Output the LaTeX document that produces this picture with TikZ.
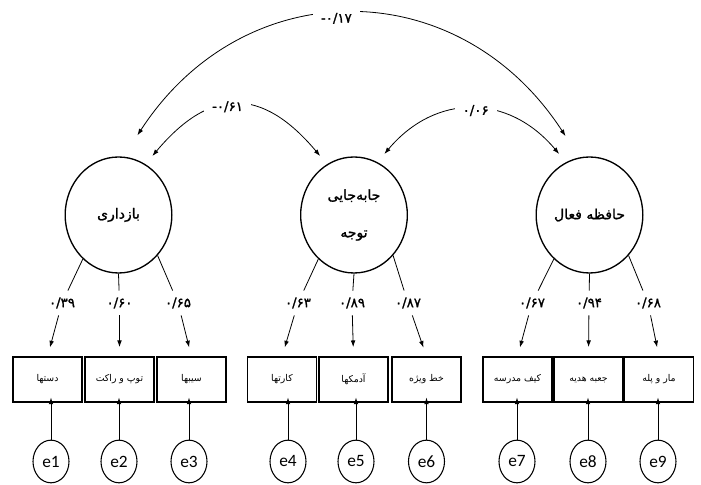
\documentclass[tikz,border=0pt]{standalone}
\usepackage{fontspec}
\setmainfont{Carlito}
\newfontfamily\farsi[Script=Arabic]{DejaVu Sans}
\newfontfamily\farsibold[Script=Arabic, FakeBold=1.2]{DejaVu Sans}
\TeXXeTstate=1
\usetikzlibrary{shapes,arrows.meta,positioning,calc}

\begin{document}
\begin{tikzpicture}[x=0.75pt, y=0.75pt,
    latent/.style={draw, ellipse, line width=1pt, minimum width=80pt, minimum height=87pt, inner sep=0pt, font=\farsibold\fontsize{10.5}{12}\selectfont},
    observed/.style={draw, rectangle, line width=0.8pt, minimum width=51.75pt, minimum height=33.75pt, inner sep=0pt, font=\farsi\fontsize{7}{8}\selectfont},
    error/.style={draw, ellipse, line width=0.8pt, minimum width=27pt, minimum height=32pt, inner sep=0pt, font=\fontsize{13}{14}\selectfont},
    weight/.style={fill=white, inner xsep=2pt, inner ysep=5pt, font=\farsibold\fontsize{10}{11}\selectfont},
    covlabel/.style={fill=white, inner xsep=6pt, inner ysep=2pt, font=\farsibold\fontsize{10}{11}\selectfont},
    link/.style={line width=0.6pt, -{Latex[length=5pt,width=3.5pt]}},
    cov/.style={line width=0.6pt, {Latex[length=5pt,width=3.5pt]}-{Latex[length=5pt,width=3.5pt]}},
  ]
    \useasboundingbox (0,0) rectangle (701,485);

    % Variabili latenti
    \node[latent] (c1) at (118.5,270) {بازداری};
    \node[latent, align=center] (c2) at (354,270) {جابه^^^^200cجایی\\[16pt]توجه};
    \node[latent] (c3) at (589.5,270) {\beginR حافظه فعال\endR};

    % Covarianze
    \draw[cov, shorten <=19pt, shorten >=19pt] (c1.85) .. controls +(57:221) and +(123:221) .. (c3.100)
        node[covlabel, pos=0.47] {-\kern0pt ۰/۱۷};
    \draw[cov, shorten <=8pt, shorten >=8pt] (c1.62) .. controls +(50:101) and +(130:101) .. (c2.118)
        node[covlabel, pos=0.45] {-\kern0pt ۰/۶۱};
    \draw[cov, shorten <=8pt, shorten >=8pt] (c2.66) .. controls +(50:90) and +(130:90) .. (c3.114)
        node[covlabel, pos=0.52] {۰/۰۶};

    % Indicatori osservati
    \node[observed] (b1) at (47.5,105.5) {دستها};
    \node[observed] (b2) at (119.5,105.5) {\beginR توپ و راکت\endR};
    \node[observed] (b3) at (191.5,105.5) {سیبها};
    \node[observed] (b4) at (282,105.5) {کارتها};
    \node[observed] (b5) at (353.5,105.5) {آدمکها};
    \node[observed] (b6) at (426.5,105.5) {\beginR خط ویژه\endR};
    \node[observed] (b7) at (517.5,105.5) {\beginR کیف مدرسه\endR};
    \node[observed] (b8) at (588.5,105.5) {\beginR جعبه هدیه\endR};
    \node[observed] (b9) at (659,105.5) {\beginR مار و پله\endR};

    % Pesi fattoriali
    \node[weight] (l1) at (62,182) {۰/۳۹};
    \node[weight] (l2) at (119.5,182) {۰/۶۰};
    \node[weight] (l3) at (178,182) {۰/۶۵};
    \node[weight] (l4) at (298,182) {۰/۶۳};
    \node[weight] (l5) at (352,182) {۰/۸۹};
    \node[weight] (l6) at (408,182) {۰/۸۷};
    \node[weight] (l7) at (532,182) {۰/۶۷};
    \node[weight] (l8) at (589,182) {۰/۹۴};
    \node[weight] (l9) at (648,182) {۰/۶۸};

    \draw[line width=0.6pt] (c1.231) -- (l1);
    \draw[line width=0.6pt] (c1.270) -- (l2);
    \draw[line width=0.6pt] (c1.314) -- (l3);
    \draw[line width=0.6pt] (c2.231) -- (l4);
    \draw[line width=0.6pt] (c2.270) -- (l5);
    \draw[line width=0.6pt] (c2.314) -- (l6);
    \draw[line width=0.6pt] (c3.231) -- (l7);
    \draw[line width=0.6pt] (c3.270) -- (l8);
    \draw[line width=0.6pt] (c3.314) -- (l9);

    \draw[link, shorten >=7pt] (l1) -- (b1.north);
    \draw[link, shorten >=7pt] (l2) -- (b2.north);
    \draw[link, shorten >=7pt] (l3) -- (b3.north);
    \draw[link, shorten >=7pt] (l4) -- (b4.north);
    \draw[link, shorten >=7pt] (l5) -- (b5.north);
    \draw[link, shorten >=7pt] (l6) -- (b6.north);
    \draw[link, shorten >=7pt] (l7) -- (b7.north);
    \draw[link, shorten >=7pt] (l8) -- (b8.north);
    \draw[link, shorten >=7pt] (l9) -- (b9.north);

    % Errori di misura
    \node[error] (e1) at (51,23.5) {e1};
    \node[error] (e2) at (119,23.5) {e2};
    \node[error] (e3) at (189,23.5) {e3};
    \node[error] (e4) at (288,23.5) {e4};
    \node[error] (e5) at (356,23.5) {e5};
    \node[error] (e6) at (426.5,23.5) {e6};
    \node[error] (e7) at (517,23.5) {e7};
    \node[error] (e8) at (588,23.5) {e8};
    \node[error] (e9) at (658,23.5) {e9};

    \foreach \i in {1,...,9}
        \draw[link, shorten >=-3.75pt] (e\i) -- (e\i |- b\i.south);
\end{tikzpicture}
\end{document}
